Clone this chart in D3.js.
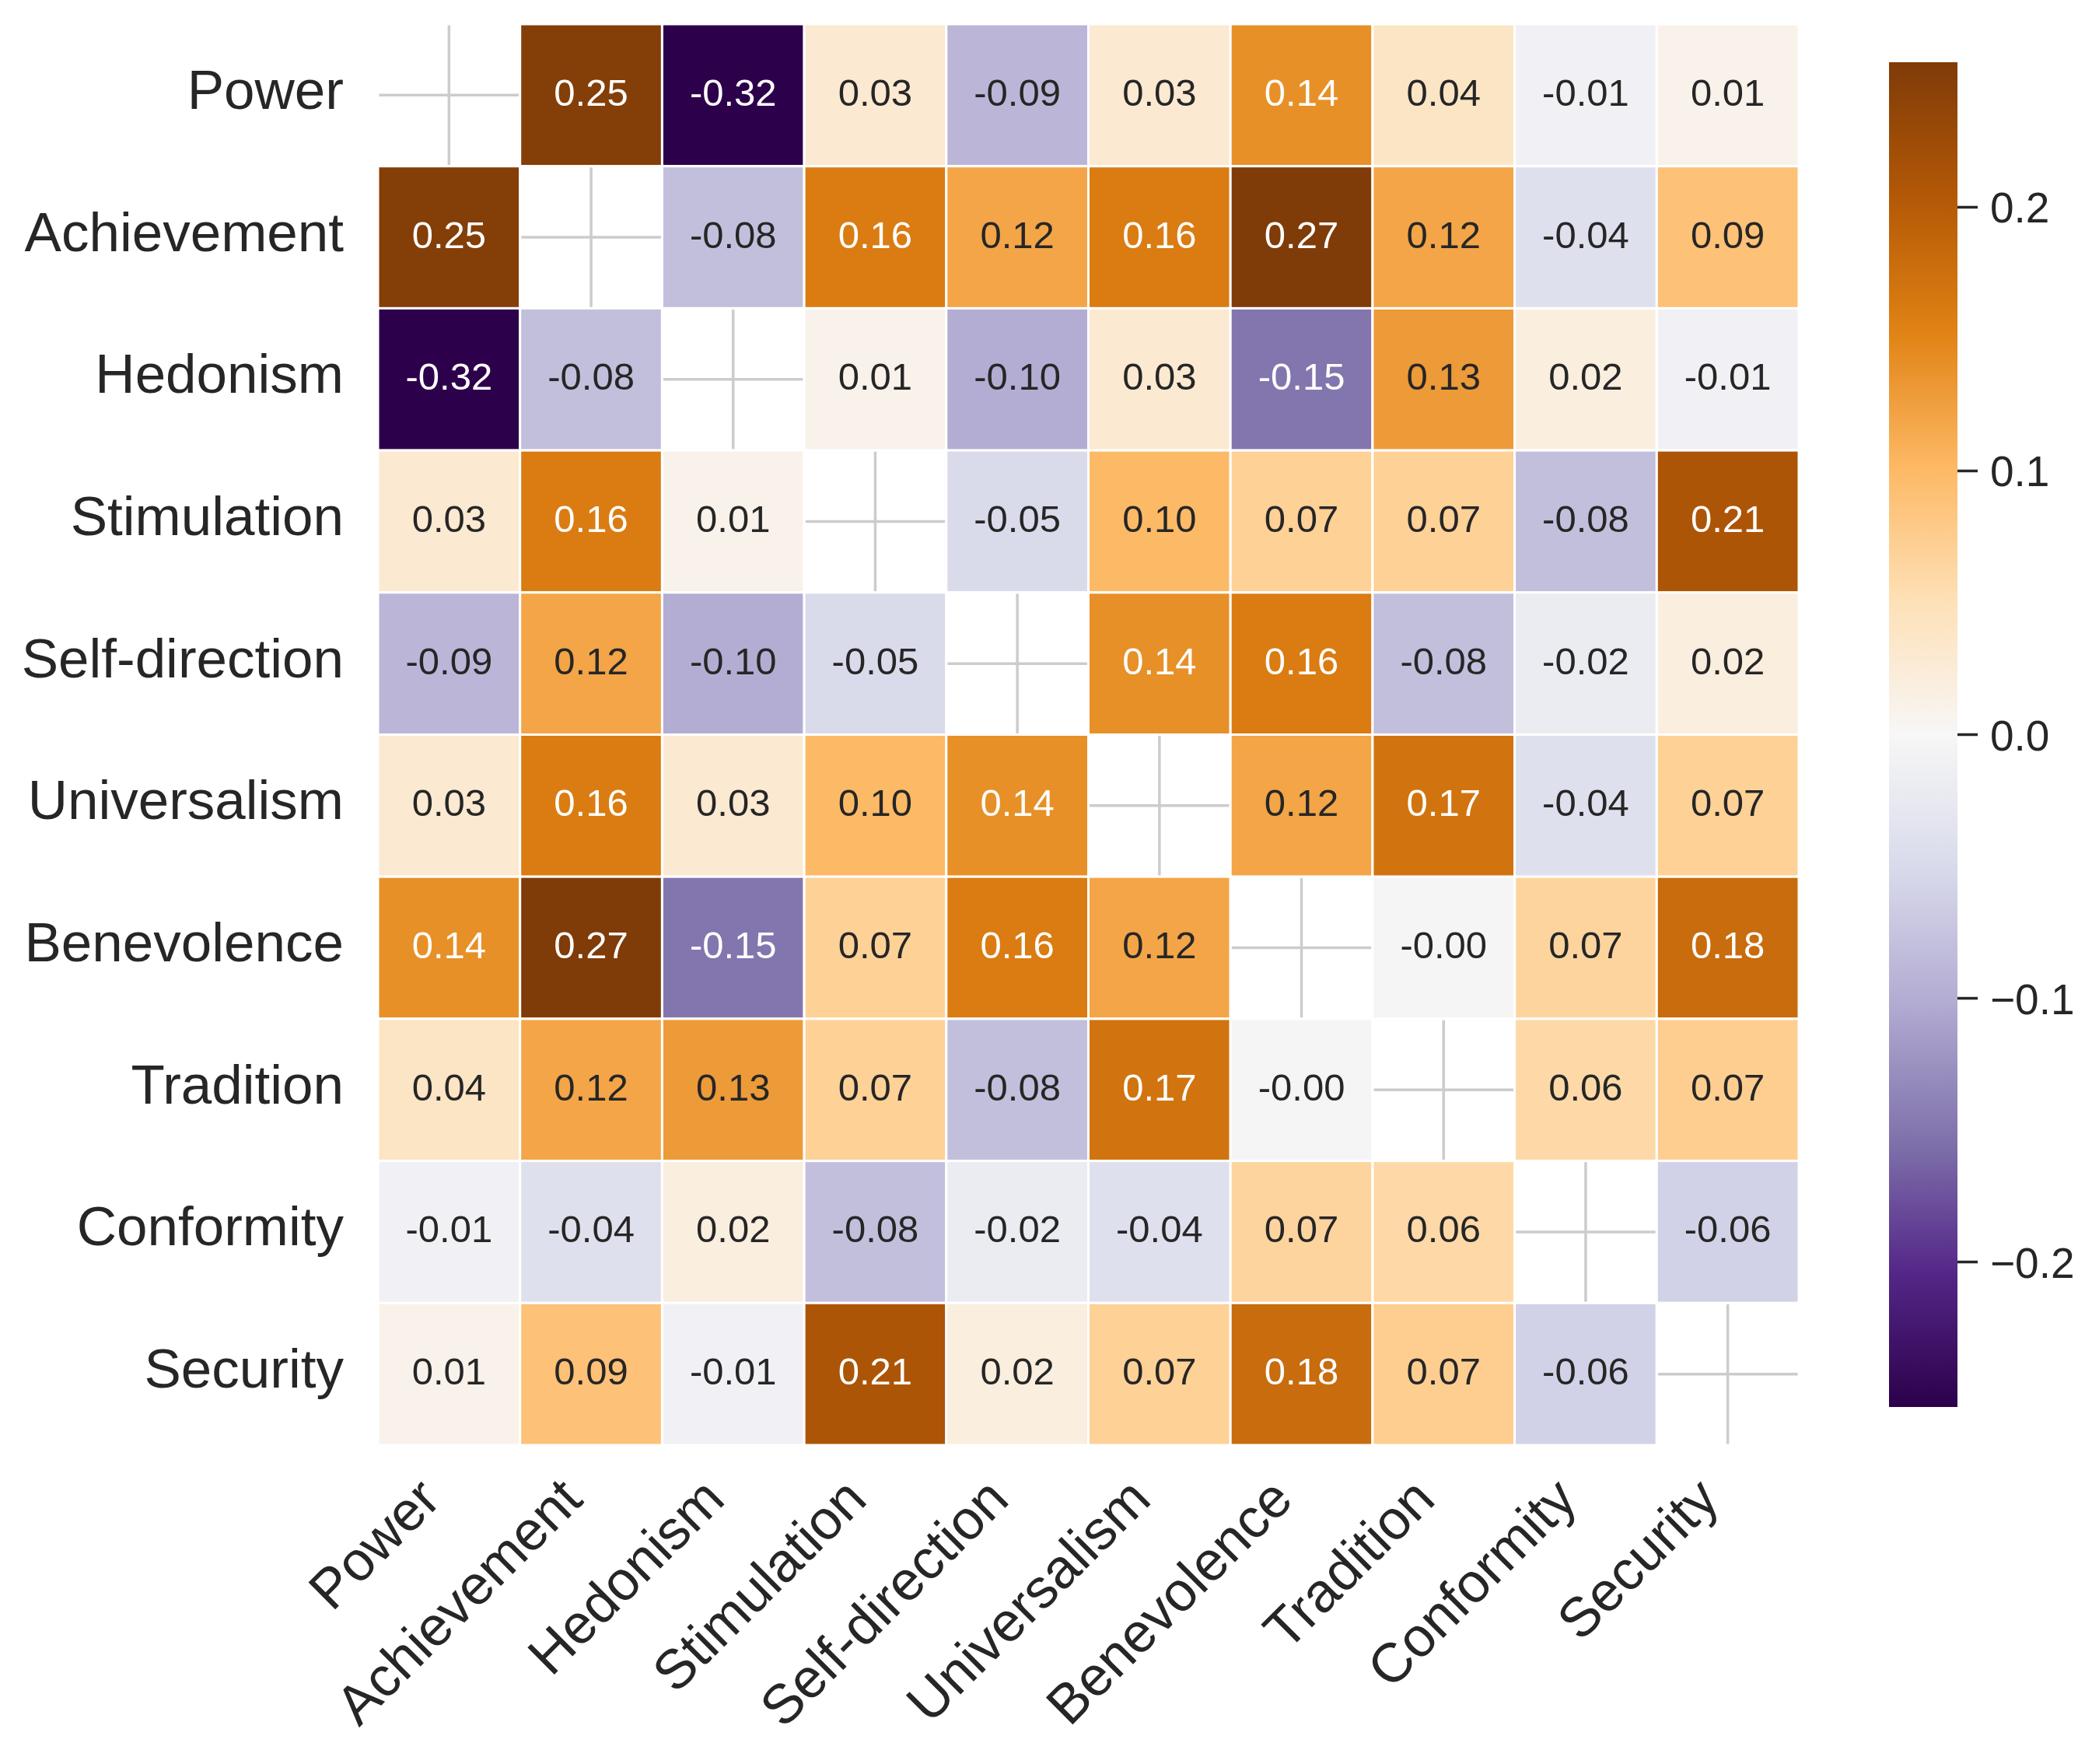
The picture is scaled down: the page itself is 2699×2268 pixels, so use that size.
<!DOCTYPE html>
<html>
<head>
<meta charset="utf-8">
<script src="https://cdn.jsdelivr.net/npm/d3@7"></script>
<style>
  body { margin: 0; background: #fff; }
  text { font-family: "Liberation Sans", Arial, sans-serif; fill: #262626; }
</style>
</head>
<body>
<div id="chart"></div>
<script>
// value names, same order on both axes
const labels = ["Power", "Achievement", "Hedonism", "Stimulation", "Self-direction",
                "Universalism", "Benevolence", "Tradition", "Conformity", "Security"];

// correlation matrix, diagonal left empty
const corr = [
  [null, 0.25, -0.32, 0.03, -0.09, 0.03, 0.14, 0.04, -0.01, 0.01],
  [0.25, null, -0.08, 0.16, 0.12, 0.16, 0.27, 0.12, -0.04, 0.09],
  [-0.32, -0.08, null, 0.01, -0.10, 0.03, -0.15, 0.13, 0.02, -0.01],
  [0.03, 0.16, 0.01, null, -0.05, 0.10, 0.07, 0.07, -0.08, 0.21],
  [-0.09, 0.12, -0.10, -0.05, null, 0.14, 0.16, -0.08, -0.02, 0.02],
  [0.03, 0.16, 0.03, 0.10, 0.14, null, 0.12, 0.17, -0.04, 0.07],
  [0.14, 0.27, -0.15, 0.07, 0.16, 0.12, null, -0.003, 0.066, 0.18],
  [0.04, 0.12, 0.13, 0.07, -0.08, 0.17, -0.003, null, 0.06, 0.074],
  [-0.01, -0.04, 0.02, -0.08, -0.02, -0.04, 0.066, 0.06, null, -0.06],
  [0.01, 0.09, -0.01, 0.21, 0.02, 0.07, 0.18, 0.074, -0.06, null]
];

const colorbarTicks = [-0.2, -0.1, 0.0, 0.1, 0.2];
const colorMin = -0.255, colorMax = 0.255;

// PuOr reversed: purple for negative, brown for positive
const puorColors = ["#2d004b", "#542788", "#8073ac", "#b2abd2", "#d8daeb", "#f7f7f7",
                    "#fee0b6", "#fdb863", "#e08214", "#b35806", "#7f3b08"];

const width = 2699, height = 2268;
const heat = {left: 486, top: 31, right: 2313, bottom: 1858};
const bar = {left: 2429, right: 2517, top: 80, bottom: 1809};

const svg = d3.select('#chart')
  .append('svg')
  .attr('width', width)
  .attr('height', height);

const x = d3.scaleBand().domain(labels).range([heat.left, heat.right]);
const y = d3.scaleBand().domain(labels).range([heat.top, heat.bottom]);

const color = d3.scaleLinear()
  .domain(d3.range(puorColors.length).map(i => colorMin + i * (colorMax - colorMin) / (puorColors.length - 1)))
  .range(puorColors)
  .interpolate(d3.interpolateRgb)
  .clamp(true);

// same rule seaborn uses to pick annotation colour
function luminance(c) {
  const rgb = d3.rgb(c);
  const lin = [rgb.r, rgb.g, rgb.b].map(v => {
    v = v / 255;
    return v <= 0.03928 ? v / 12.92 : Math.pow((v + 0.055) / 1.055, 2.4);
  });
  return 0.2126 * lin[0] + 0.7152 * lin[1] + 0.0722 * lin[2];
}

// grid lines (only visible through the empty diagonal)
const grid = svg.append('g').attr('stroke', '#cccccc').attr('stroke-width', 3.5);
labels.forEach(l => {
  grid.append('line')
    .attr('x1', x(l) + x.bandwidth() / 2).attr('x2', x(l) + x.bandwidth() / 2)
    .attr('y1', heat.top).attr('y2', heat.bottom);
  grid.append('line')
    .attr('x1', heat.left).attr('x2', heat.right)
    .attr('y1', y(l) + y.bandwidth() / 2).attr('y2', y(l) + y.bandwidth() / 2);
});

const cells = [];
corr.forEach((row, i) => row.forEach((v, j) => cells.push({row: labels[i], col: labels[j], value: v})));

svg.append('g').selectAll('rect')
  .data(cells)
  .enter()
  .append('rect')
  .attr('x', d => x(d.col))
  .attr('y', d => y(d.row))
  .attr('width', x.bandwidth())
  .attr('height', y.bandwidth())
  .attr('fill', d => d.value === null ? 'none' : color(d.value))
  .attr('stroke', '#ffffff')
  .attr('stroke-width', 3);

svg.append('g').selectAll('text')
  .data(cells.filter(d => d.value !== null))
  .enter()
  .append('text')
  .attr('x', d => x(d.col) + x.bandwidth() / 2)
  .attr('y', d => y(d.row) + y.bandwidth() / 2 + 13.5)
  .attr('text-anchor', 'middle')
  .style('font-size', '49px')
  .style('fill', d => luminance(color(d.value)) > 0.408 ? '#262626' : '#ffffff')
  .text(d => d.value.toFixed(2));

// row labels
svg.append('g').selectAll('text')
  .data(labels)
  .enter()
  .append('text')
  .attr('x', 442)
  .attr('y', d => y(d) + y.bandwidth() / 2 + 17.5)
  .attr('text-anchor', 'end')
  .style('font-size', '71px')
  .text(d => d);

// column labels, rotated 45 degrees
svg.append('g').selectAll('text')
  .data(labels)
  .enter()
  .append('text')
  .attr('transform', d => 'translate(' + (x(d) + x.bandwidth() / 2 - 8) + ',' + 1931 + ') rotate(-45)')
  .attr('text-anchor', 'end')
  .style('font-size', '71px')
  .text(d => d);

// colorbar
const grad = svg.append('defs').append('linearGradient')
  .attr('id', 'cbar-grad')
  .attr('x1', 0).attr('y1', 1).attr('x2', 0).attr('y2', 0);
puorColors.forEach((c, i) => {
  grad.append('stop')
    .attr('offset', i / (puorColors.length - 1))
    .attr('stop-color', c);
});

svg.append('rect')
  .attr('x', bar.left)
  .attr('y', bar.top)
  .attr('width', bar.right - bar.left)
  .attr('height', bar.bottom - bar.top)
  .attr('fill', 'url(#cbar-grad)');

const cbScale = d3.scaleLinear().domain([colorMin, colorMax]).range([bar.bottom, bar.top]);
const fmt = d3.format('.1f');

const cbTicks = svg.append('g').selectAll('g')
  .data(colorbarTicks)
  .enter()
  .append('g')
  .attr('transform', d => 'translate(0,' + cbScale(d) + ')');

cbTicks.append('line')
  .attr('x1', bar.right).attr('x2', bar.right + 26)
  .attr('stroke', '#262626')
  .attr('stroke-width', 3.5);

cbTicks.append('text')
  .attr('x', 2559)
  .attr('y', 20)
  .style('font-size', '55px')
  .text(d => fmt(d));
</script>
</body>
</html>
